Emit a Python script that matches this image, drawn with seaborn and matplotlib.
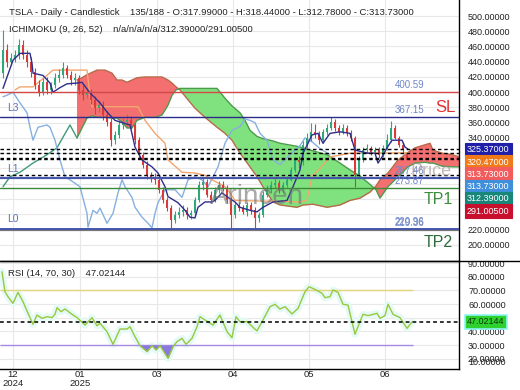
import numpy as np
import pandas as pd
import seaborn as sns
import matplotlib.pyplot as plt
from matplotlib.lines import Line2D
from matplotlib.transforms import blended_transform_factory

# ---- data (time axis = bar position on the chart) ----
bar_t = np.arange(3, 408, 4)
opens = [425, 455, 440, 445, 449, 462, 449, 440, 427, 410,
         400, 413, 403, 410, 419, 423, 432, 423, 416, 419,
         403, 396, 400, 390, 379, 383, 370, 361, 337, 344,
         357, 361, 364, 357, 337, 318, 305, 291, 287, 285,
         272, 259, 248, 232, 239, 243, 245, 239, 242, 259,
         278, 282, 265, 259, 272, 278, 274, 259, 239, 252,
         248, 243, 252, 245, 235, 239, 265, 272, 278, 281,
         272, 278, 285, 298, 311, 308, 331, 340, 348, 344,
         337, 348, 353, 361, 353, 348, 353, 347, 340, 291,
         311, 324, 327, 322, 324, 318, 327, 337, 353, 340,
         331, 317.99]
closes = [455, 440, 445, 449, 462, 449, 440, 427, 410, 400,
          413, 403, 410, 419, 423, 432, 423, 416, 419, 403,
          396, 400, 390, 379, 383, 370, 361, 337, 344, 357,
          361, 364, 357, 337, 318, 305, 291, 287, 285, 272,
          259, 248, 232, 239, 243, 245, 239, 242, 259, 278,
          282, 265, 259, 272, 278, 274, 259, 239, 252, 248,
          243, 252, 245, 235, 239, 265, 272, 278, 281, 272,
          278, 285, 298, 311, 308, 331, 340, 348, 344, 337,
          348, 353, 361, 353, 348, 353, 347, 340, 291, 311,
          324, 327, 322, 324, 318, 327, 337, 353, 340, 331,
          324, 313.73]
highs = [482, 463, 452, 455, 470, 468, 455, 446, 432, 416,
         418, 420, 414, 425, 430, 440, 436, 428, 425, 423,
         410, 405, 404, 395, 390, 388, 375, 366, 349, 362,
         366, 372, 369, 360, 341, 322, 310, 295, 294, 289,
         276, 263, 252, 244, 250, 252, 250, 246, 263, 283,
         288, 286, 270, 276, 284, 283, 278, 263, 256, 256,
         252, 256, 256, 249, 243, 270, 278, 284, 288, 285,
         282, 290, 302, 315, 316, 336, 346, 360, 358, 349,
         352, 358, 368, 365, 357, 358, 357, 350, 342, 316,
         328, 332, 330, 328, 328, 331, 345, 362, 357, 343,
         335, 318.44]
lows = [418, 433, 436, 440, 444, 444, 433, 420, 404, 395,
        396, 398, 398, 405, 413, 418, 418, 410, 410, 398,
        390, 392, 385, 372, 374, 364, 355, 330, 332, 340,
        352, 356, 352, 332, 312, 300, 286, 282, 280, 268,
        254, 244, 222, 228, 235, 238, 234, 233, 238, 256,
        272, 262, 254, 256, 268, 270, 255, 222, 235, 244,
        240, 238, 240, 222, 230, 236, 262, 268, 274, 268,
        268, 275, 283, 295, 300, 305, 327, 336, 340, 332,
        334, 344, 350, 349, 344, 345, 342, 336, 275, 286,
        308, 320, 318, 318, 314, 315, 324, 335, 338, 328,
        320, 312.78]

tenkan_t = [3, 13, 20, 30, 32, 33, 43, 50, 53, 60, 67, 77, 82, 90, 100, 107, 115, 120,
            130, 135, 142, 152, 158, 165, 168, 178, 185, 190, 195, 198, 205, 212, 215,
            222, 228, 235, 240, 250, 257, 263, 273, 287, 293, 300, 303, 308, 312, 318,
            323, 330, 340, 350, 355, 368, 375, 378, 382, 387, 392, 402, 405, 408]
tenkan = [405, 442, 451, 451, 438, 425, 422, 412, 400, 406, 411, 412, 413, 399, 386, 374, 363, 361,
          357, 328, 311, 302, 294, 276, 263, 255, 245, 236, 235, 249, 256, 256, 258,
          268, 262, 256, 249, 245, 243, 249, 256, 258, 276, 298, 320, 333, 344, 346,
          333, 346, 348, 346, 324, 320, 320, 307, 315, 327, 337, 337, 328, 325.37]

kijun_t = [15, 20, 33, 45, 53, 87, 90, 92, 138, 145, 155, 165, 168, 182, 195, 205, 212,
           218, 225, 230, 235, 300, 307, 312, 320, 330, 350, 408]
kijun = [403, 407, 407, 420, 429, 429, 395, 381, 381, 363, 346, 333, 311, 295, 294, 291, 285,
         281, 276, 268, 258, 256, 258, 290, 300, 315, 320, 320.47]

chikou_t = [3, 7, 13, 20, 27, 30, 33, 38, 47, 50, 55, 60, 65, 70, 80, 87, 88, 93, 97, 100,
            107, 113, 118, 122, 125, 132, 135, 142, 148, 152, 155, 158, 165, 175, 182, 188,
            195, 202, 208, 218, 225, 232, 240, 245, 250, 255, 260, 267, 270, 273, 280, 290,
            300, 305, 312, 320, 330]
chikou = [394, 396, 400, 386, 373, 354, 337, 354, 357, 354, 337, 311, 289, 285, 276, 241, 223, 245,
          241, 248, 228, 241, 268, 285, 276, 262, 249, 236, 228, 222, 241, 255, 272, 272, 262,
          285, 289, 285, 276, 302, 333, 350, 355, 365, 363, 360, 346, 337, 324, 311, 305, 318,
          330, 340, 335, 326, 318]

span_a_pre_t = [3, 10, 20, 33, 47, 57, 63, 70, 77]
span_a_pre = [276, 289, 295, 307, 318, 327, 341, 357, 340]

cloud_t = [77, 82, 87, 92, 97, 105, 112, 117, 122, 127, 132, 137, 145, 155, 162, 168, 172,
           176, 180, 188, 195, 205, 217, 225, 232, 240, 245, 250, 257, 263, 273, 280, 297,
           303, 313, 327, 340, 350, 360, 370, 376, 380, 388, 398, 408, 415, 425, 430, 433,
           442, 452, 460]
span_a = [340, 353, 366, 369, 367, 367, 366, 366, 361, 353, 353, 363, 367, 367, 370, 383, 396,
          403, 405, 405, 405, 405, 405, 392, 382, 373, 363, 350, 342, 339, 336, 333, 329,
          327, 323, 318, 307, 298, 290, 279, 272, 261, 276, 289, 302, 307, 308, 307, 307,
          303, 302, 302]
span_b = [416, 419, 423, 426, 429, 429, 425, 416, 416, 413, 416, 419, 420, 420, 420, 416, 412,
          407, 403, 390, 379, 367, 354, 346, 337, 320, 311, 302, 289, 276, 256, 252, 249,
          252, 253, 249, 252, 258, 261, 269, 277, 285, 294, 311, 321, 327, 331, 333, 324,
          320, 318, 315]

rsi_t = [2, 5, 8, 13, 18, 23, 28, 33, 37, 42, 47, 52, 55, 57, 61, 65, 72, 78, 85, 92, 97,
         100, 107, 113, 120, 127, 130, 135, 140, 147, 152, 156, 160, 168, 173, 177, 182,
         186, 192, 197, 200, 205, 213, 220, 227, 232, 236, 240, 247, 257, 263, 270, 275,
         280, 285, 292, 298, 305, 309, 315, 322, 325, 330, 333, 338, 343, 348, 355, 360,
         363, 368, 377, 380, 385, 388, 393, 400, 407, 412]
rsi = [83.6, 69, 65.4, 60.6, 68.6, 61.8, 53.3, 45.3, 52, 49.6, 50.8, 50.1, 52.6, 57.4, 54.5,
       56.4, 52.6, 49.6, 44.7, 50.1, 44.2, 46, 39.9, 30.6, 41.8, 41.8, 43.5, 36.2, 29.6, 25.3,
       29.6, 26.5, 29.6, 20.4, 28.9, 32.6, 35, 30.6, 35, 43.5, 50.8, 48.4, 44.7, 52, 39.9, 35.5,
       50.8, 47.2, 47.2, 40.4, 48.4, 58.1, 59.9, 56.4, 58.1, 52.8, 56.9, 69, 72.7, 70.8, 67.9,
       64.7, 65.4, 70.3, 68.6, 59.9, 59.3, 38, 47.2, 52.6, 51.6, 53.3, 49.6, 51.6, 59.9, 52.6,
       50.1, 42.3, 47.02]

month_t = [13, 80, 157, 233, 309, 385]
month_labels = ["12\n2024", "01\n2025", "03", "04", "05", "06"]

stop_loss = 400.59
level_l3 = 367.15
level_l1 = 287.46
take_profit1 = 273.87
level_l0 = 220.96
level_l0b = 219.36
ichi_values = [325.37, 320.47, 313.73, 312.39, 291.005]
rsi_last = 47.02144

sns.set_theme(style="white")
plt.rcParams['font.family'] = ['Liberation Sans', 'DejaVu Sans']

fig = plt.figure(figsize=(5.2, 3.9), dpi=100)
ax = fig.add_axes([0, 1 - 261 / 390, 459 / 520, 261 / 390])
ax2 = fig.add_axes([0, 1 - 369 / 390, 459 / 520, 108 / 390])

# ---- price panel ----
ax.set_xlim(0, 459)
ax.set_ylim(178.5, 521)
ax.set_yticks(range(200, 501, 20))
ax.set_yticklabels([f"{v:.5f}" for v in range(200, 501, 20)])
ax.yaxis.tick_right()
ax.tick_params(axis='y', length=0, pad=6.5, labelsize=6.5, labelcolor='#222222')
ax.set_xticks(month_t)
ax.set_xticklabels([])
ax.tick_params(axis='x', length=0)
ax.grid(True, color='#e8e8e8', lw=0.8)
for s in ['left', 'top', 'bottom']:
    ax.spines[s].set_visible(False)
ax.spines['right'].set_color('black')
ax.spines['right'].set_linewidth(1)

a = np.array(span_a, dtype=float)
b = np.array(span_b, dtype=float)
ax.fill_between(cloud_t, a, b, where=a >= b, interpolate=True, color='#80e27e', lw=0, zorder=1)
ax.fill_between(cloud_t, a, b, where=a < b, interpolate=True, color='#f47070', lw=0, zorder=1)
sns.lineplot(x=cloud_t, y=span_b, ax=ax, color='#b86a4a', lw=1, zorder=2)
sns.lineplot(x=cloud_t, y=span_a, ax=ax, color='#4c9a4c', lw=1, zorder=2)
sns.lineplot(x=span_a_pre_t, y=span_a_pre, ax=ax, color='#3f9a7a', lw=1, zorder=2)

sns.lineplot(x=chikou_t, y=chikou, ax=ax, color='#86b0e0', lw=1, zorder=2)
sns.lineplot(x=kijun_t, y=kijun, ax=ax, color='#f2a66e', lw=1, zorder=2)

o = np.array(opens, dtype=float)
c = np.array(closes, dtype=float)
up = c >= o
cols = np.where(up, '#2ea87a', '#d93a3a')
ax.vlines(bar_t, lows, highs, colors=cols, lw=0.8, zorder=3)
ax.bar(bar_t, np.maximum(np.abs(c - o), 0.8), bottom=np.minimum(o, c), width=2.2,
       color=cols, lw=0, zorder=3)

sns.lineplot(x=tenkan_t, y=tenkan, ax=ax, color='#2e2e8c', lw=1, zorder=4)

ax.axhline(stop_loss, color='#d24848', lw=1, zorder=5)
ax.axhline(level_l3, color='#2c2c8c', lw=1, zorder=5)
ax.axhline(level_l1, color='#4656aa', lw=1.6, zorder=5)
ax.axhline(take_profit1, color='#3a8a3a', lw=1, zorder=5)
ax.axhline(level_l0b, color='#777777', lw=1.6, zorder=5)
ax.axhline(level_l0, color='#4656aa', lw=1.4, zorder=5)
for v in ichi_values:
    ax.axhline(v, color='black', lw=1, ls=(0, (2.5, 2)), zorder=5)

lab_col = '#6f86c8'
for v, txt in [(stop_loss, "400.59"), (level_l3, "367.15"), (level_l1, "287.46"),
               (take_profit1, "273.87"), (level_l0, "220.96"), (level_l0b, "219.36")]:
    ax.annotate(txt, (395, v), xytext=(0, 1.5), textcoords='offset points', ha='left',
                va='bottom', fontsize=7, color=lab_col, zorder=6)
for v, txt in [(level_l3, "L3"), (level_l1, "L1"), (level_l0, "L0")]:
    ax.annotate(txt, (7, v), xytext=(0, 3), textcoords='offset points', ha='left',
                va='bottom', fontsize=7.5, color='#5a72b8', zorder=6)
ax.annotate("SL", (435, level_l3), xytext=(0, 3.5), textcoords='offset points', ha='left',
            va='baseline', fontsize=12, color='#e03232', zorder=6)
ax.annotate("TP1", (424, take_profit1), xytext=(0, -3), textcoords='offset points', ha='left',
            va='top', fontsize=11.5, color='#3c8c3c', zorder=6)
ax.annotate("TP2", (424, level_l0), xytext=(0, -4.5), textcoords='offset points', ha='left',
            va='top', fontsize=11.5, color='#2d6b3a', zorder=6)

ax.text(210, 262, "Arincen", fontsize=20, color='#707070', alpha=0.6, ha='left', va='center', zorder=6)
ax.text(410, 296, "Price", fontsize=13, color='#a08a8a', alpha=0.6, ha='left', va='center', zorder=6)

ax.text(9 / 459, 1 - 12.7 / 261,
        "TSLA - Daily - Candlestick    135/188 - O:317.99000 - H:318.44000 - L:312.78000 - C:313.73000",
        transform=ax.transAxes, fontsize=6.8, color='#222222', va='center', ha='left', zorder=7)
ax.text(9 / 459, 1 - 29 / 261, "ICHIMOKU (9, 26, 52)    n/a/n/a/n/a/312.39000/291.00500",
        transform=ax.transAxes, fontsize=6.8, color='#222222', va='center', ha='left', zorder=7)

box_specs = [("325.37000", '#1f1fa8', 'white'), ("320.47000", '#f07a1a', 'white'),
             ("313.73000", '#f25c5c', 'white'), ("313.73000", '#3f8fdc', 'white'),
             ("312.39000", '#17877a', 'white'), ("291.00500", '#c8102e', 'white')]
for k, (txt, fc, tc) in enumerate(box_specs):
    yf = 1 - (150 + 12.2 * k) / 261
    ax.text(1.0175, yf, txt, transform=ax.transAxes, fontsize=6.5, color=tc, ha='left',
            va='center', clip_on=False, zorder=8,
            bbox=dict(boxstyle='square,pad=0.28', fc=fc, ec=fc, lw=0.8))

# ---- RSI panel ----
ax2.set_xlim(0, 459)
ax2.set_ylim(12.6, 91.5)
ax2.set_yticks(range(20, 91, 10))
ax2.set_yticklabels([f"{v:.5f}" for v in range(20, 91, 10)])
ax2.yaxis.tick_right()
ax2.tick_params(axis='y', length=0, pad=6.5, labelsize=6.5, labelcolor='#222222')
ax2.set_xticks(month_t)
ax2.set_xticklabels(month_labels, linespacing=0.95)
ax2.tick_params(axis='x', length=0, pad=1, labelsize=6.8, labelcolor='#222222')
ax2.grid(True, color='#e8e8e8', lw=0.8)
ax2.spines['left'].set_visible(False)
for s in ['top', 'bottom', 'right']:
    ax2.spines[s].set_color('black')
    ax2.spines[s].set_linewidth(1)
tr = blended_transform_factory(ax2.transAxes, ax2.transData)
ax2.text(1.0195, 17.0, "10.00000", transform=tr, fontsize=6.5, color='#222222', va='center',
         ha='left', clip_on=False)

rv = np.array(rsi, dtype=float)
ax2.plot(rsi_t, rv, color='#e4faf6', lw=5, zorder=1, solid_capstyle='round')
ax2.hlines(70, 0, 413, color='#e4d47a', lw=1, zorder=2)
ax2.hlines(30, 0, 413, color='#a68ae6', lw=1, zorder=2)
ax2.fill_between(rsi_t, rv, 30, where=rv < 30, interpolate=True, color='#8a78e0', lw=0, zorder=2)
sns.lineplot(x=rsi_t, y=rsi, ax=ax2, color='#9cc63c', lw=1, zorder=3)
ax2.axhline(rsi_last, color='black', lw=1.1, ls=(0, (2.5, 2)), zorder=4)
ax2.text(8 / 459, 1 - 12 / 108, "RSI (14, 70, 30)    47.02144", transform=ax2.transAxes,
         fontsize=6.8, color='#222222', va='center', ha='left')
ax2.text(1.0175, rsi_last, "47.02144", transform=tr, fontsize=6.5, color='#0a3a0a', ha='left',
         va='center', clip_on=False, zorder=8,
         bbox=dict(boxstyle='square,pad=0.28', fc='#2fd12f', ec='#8ff5f5', lw=1.2))

fig.add_artist(Line2D([0, 1], [1 - 261 / 390, 1 - 261 / 390], color='black', lw=1,
                      transform=fig.transFigure))

fig.savefig("out.png", dpi=100)
